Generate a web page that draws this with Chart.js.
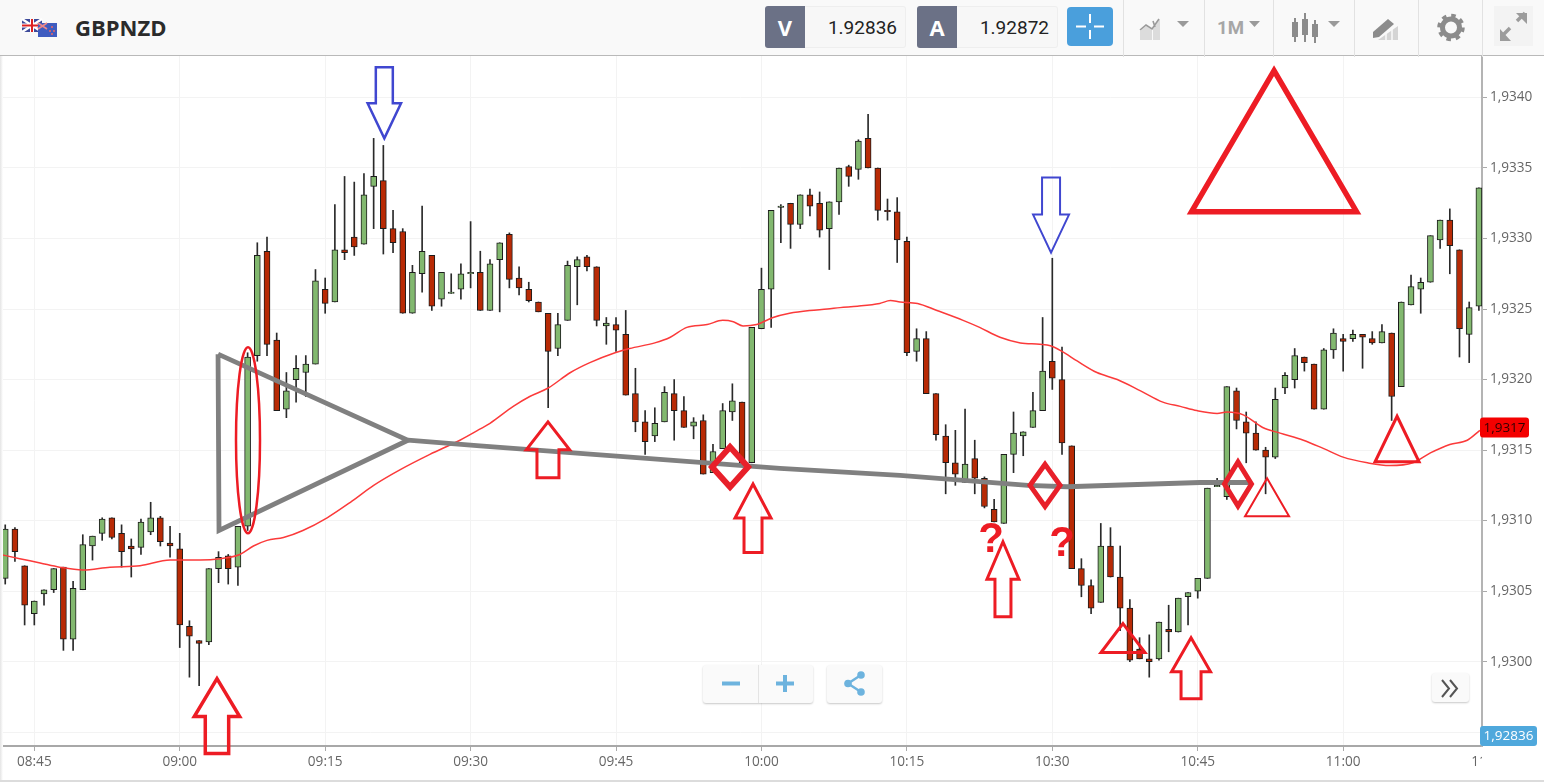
<!DOCTYPE html>
<html><head><meta charset="utf-8"><title>GBPNZD</title>
<script src="https://cdn.jsdelivr.net/npm/chart.js@4/dist/chart.umd.min.js"></script>
<style>
html,body{margin:0;padding:0;background:#fff;overflow:hidden}
body{width:1544px;height:782px;position:relative;font-family:"Open Sans",sans-serif}
canvas{position:absolute;left:0;top:0}
.a{position:absolute}
#hdr{left:0;top:0;width:1544px;height:55px;background:#f9f9f9;border-bottom:1px solid #b9b9b9}
#sym{left:75px;top:12px;font:700 22px/30px "Open Sans";color:#2b2b2b}
.lab{background:#6b7186;color:#fff;font:700 22px/42px "Open Sans";text-align:center;width:40px;height:42px;top:6px;border-radius:3px 0 0 3px}
.val{background:#f7f7f7;border:1px solid #eee;border-left:0;border-radius:0 3px 3px 0;top:6px;height:40px;width:100px;color:#222;font:400 19px/41px Roboto;text-align:right;box-sizing:content-box}
.sep{top:0;width:1px;height:57px;background:#e2e2e2}
.btn{background:#fafafa;border-radius:3px;box-shadow:0 1px 2px rgba(0,0,0,.22)}
</style></head><body>
<canvas id="c" width="1544" height="782"></canvas>
<div class="a" style="left:0;top:56px;width:3px;height:726px;background:linear-gradient(90deg,#e4e4e4,#fff)"></div>
<div class="a" style="left:0;top:780px;width:1544px;height:2px;background:#dcdcdc"></div>
<div id="hdr" class="a"></div>
<svg class="a" style="left:20px;top:16px" width="40" height="24" viewBox="0 0 40 24">
<rect x="2" y="3" width="20" height="13" fill="#3d4a9a"/><path d="M2 3L22 16M22 3L2 16" stroke="#fff" stroke-width="2.5"/><path d="M12 3V16M2 9.5H22" stroke="#fff" stroke-width="4"/><path d="M12 3V16M2 9.5H22" stroke="#d22" stroke-width="2"/>
<rect x="18" y="7" width="19" height="14" fill="#3f5cc0"/><path d="M18 7L27 13M27 7L18 13" stroke="#e88" stroke-width="1.6"/><circle cx="32" cy="11" r="1" fill="#e66"/><circle cx="30" cy="15" r="1" fill="#e66"/><circle cx="34" cy="15" r="1" fill="#e66"/><circle cx="32" cy="18" r="1" fill="#e66"/>
</svg>
<div id="sym" class="a">GBPNZD</div>
<div class="a lab" style="left:765px">V</div><div class="a val" style="left:805px;padding-right:8px;width:92px">1.92836</div>
<div class="a lab" style="left:917px">A</div><div class="a val" style="left:957px;padding-right:8px;width:92px">1.92872</div>
<div class="a" style="left:1067px;top:7px;width:46px;height:39px;background:#4a9fdc;border-radius:4px"></div>
<svg class="a" style="left:1067px;top:7px" width="46" height="39"><path d="M23 7V16M23 23V32M9 19.5H19M27 19.5H37" stroke="#fff" stroke-width="2"/></svg>
<div class="a sep" style="left:1123px"></div><div class="a sep" style="left:1204px"></div><div class="a sep" style="left:1273px"></div><div class="a sep" style="left:1354px"></div><div class="a sep" style="left:1418px"></div><div class="a sep" style="left:1482px"></div>
<svg class="a" style="left:1124px;top:0" width="420" height="55">
<path d="M16 40V31L22 26L28 30V40ZM29 40V27L36 19V40Z" fill="#dcdcdc"/><path d="M16 30L22 25L28 29L35 19M29 21L31 27" stroke="#9a9a9a" stroke-width="1.6" fill="none"/>
<path d="M53 21H65L59 27Z" fill="#9a9a9a"/>
<text x="93" y="34" font-family="Roboto" font-size="19" font-weight="700" fill="#a6a6a6" textLength="27" lengthAdjust="spacingAndGlyphs">1M</text>
<path d="M125 21H136L130.500 27Z" fill="#9a9a9a"/>
<g fill="#8c8c8c"><rect x="168" y="22" width="6" height="15"/><rect x="170" y="18" width="2" height="24"/><rect x="178" y="19" width="6" height="16"/><rect x="180" y="13" width="2" height="29"/><rect x="188" y="24" width="6" height="13"/><rect x="190" y="20" width="2" height="23"/></g>
<path d="M204 21H216L210 27Z" fill="#9a9a9a"/>
<path d="M254 40L274 26V40Z" fill="#d4d4d4"/>
<path d="M249 32L264 19L270 24L255 37L249 38Z" fill="#8c8c8c"/>
<path d="M262 40V33M268 40V29" stroke="#f9f9f9" stroke-width="1.500"/>
<circle cx="327" cy="27.500" r="8.500" fill="none" stroke="#8c8c8c" stroke-width="5"/><circle cx="327" cy="27.500" r="12" fill="none" stroke="#8c8c8c" stroke-width="3.500" stroke-dasharray="4.500 4.900"/>
<rect x="370" y="6" width="39" height="40" fill="#f3f3f3"/>
<path d="M393 21L401 13M378 36L386 28" stroke="#9c9c9c" stroke-width="3.500" fill="none"/>
<path d="M392 13H403V24ZM376 29V41H387Z" fill="#9c9c9c"/>
</svg>
<div class="a btn" style="left:703px;top:665px;width:110px;height:38px"></div>
<div class="a" style="left:758px;top:665px;width:1px;height:38px;background:#e4e4e4"></div>
<div class="a btn" style="left:827px;top:665px;width:55px;height:38px"></div>
<div class="a btn" style="left:1432px;top:673px;width:37px;height:29px"></div>
<svg class="a" style="left:703px;top:665px" width="780" height="40">
<path d="M19 18.500H37M73 18.500H91M82 10V27" stroke="#6db3de" stroke-width="4"/>
<path d="M145 18.500L158 10M145 18.500L158 27" stroke="#6db3de" stroke-width="2.500"/>
<g fill="#6db3de"><circle cx="158" cy="10" r="3.800"/><circle cx="145" cy="18.500" r="3.800"/><circle cx="158" cy="27" r="3.800"/></g>
<path d="M739 15L746 23.500L739 32M747 15L754 23.500L747 32" stroke="#555" stroke-width="2" fill="none"/>
</svg>
<script>
const startMinute = 522;
const opens = [
1.93059,1.93094,1.93068,1.93034,1.93048,1.93051,1.93067,1.93016,1.93051,1.93082,
1.93091,1.93102,1.93091,1.93082,1.93081,1.93092,1.93102,1.93084,1.93080,1.93025,
1.93015,1.93014,1.93066,1.93075,1.93067,1.93096,1.93217,1.93291,1.93228,1.93179,
1.93200,1.93205,1.93211,1.93264,1.93255,1.93292,1.93301,1.93296,1.93337,1.93341,
1.93307,1.93305,1.93247,1.93275,1.93288,1.93257,1.93261,1.93264,1.93275,1.93276,
1.93249,1.93285,1.93303,1.93272,1.93264,1.93255,1.93247,1.93222,1.93242,1.93280,
1.93287,1.93280,1.93238,1.93239,1.93232,1.93190,1.93170,1.93160,1.93170,1.93190,
1.93178,1.93167,1.93171,1.93134,1.93151,1.93177,1.93184,1.93141,1.93236,1.93264,
1.93322,1.93325,1.93310,1.93331,1.93325,1.93307,1.93326,1.93351,1.93349,1.93371,
1.93350,1.93320,1.93319,1.93298,1.93220,1.93229,1.93190,1.93160,1.93141,1.93127,
1.93144,1.93130,1.93108,1.93098,1.93147,1.93160,1.93166,1.93178,1.93213,1.93200,
1.93153,1.93066,1.93054,1.93042,1.93082,1.93060,1.93038,1.93009,1.93002,1.93002,
1.93023,1.93021,1.93046,1.93050,1.93059,1.93124,1.93117,1.93192,1.93170,1.93162,
1.93150,1.93145,1.93194,1.93200,1.93216,1.93211,1.93179,1.93221,1.93229,1.93229,
1.93232,1.93229,1.93226,1.93233,1.93195,1.93253,1.93264,1.93269,1.93299,1.93313,
1.93292,1.93232,1.93252];
const highs = [
1.93097,1.93095,1.93068,1.93043,1.93051,1.93066,1.93067,1.93057,1.93090,1.93089,
1.93102,1.93102,1.93097,1.93087,1.93101,1.93113,1.93103,1.93096,1.93091,1.93029,
1.93015,1.93066,1.93078,1.93076,1.93096,1.93219,1.93297,1.93301,1.93233,1.93205,
1.93217,1.93217,1.93278,1.93272,1.93324,1.93344,1.93340,1.93346,1.93371,1.93366,
1.93320,1.93307,1.93281,1.93323,1.93288,1.93276,1.93275,1.93282,1.93312,1.93291,
1.93285,1.93297,1.93304,1.93280,1.93269,1.93255,1.93247,1.93247,1.93284,1.93287,
1.93288,1.93280,1.93244,1.93244,1.93249,1.93208,1.93178,1.93180,1.93195,1.93200,
1.93188,1.93173,1.93175,1.93154,1.93183,1.93197,1.93184,1.93237,1.93279,1.93320,
1.93324,1.93325,1.93331,1.93335,1.93333,1.93326,1.93350,1.93352,1.93370,1.93388,
1.93350,1.93328,1.93329,1.93301,1.93236,1.93234,1.93190,1.93168,1.93164,1.93179,
1.93157,1.93131,1.93115,1.93147,1.93177,1.93163,1.93191,1.93244,1.93286,1.93223,
1.93153,1.93073,1.93058,1.93098,1.93095,1.93082,1.93044,1.93017,1.93019,1.93028,
1.93040,1.93045,1.93049,1.93059,1.93123,1.93130,1.93195,1.93194,1.93177,1.93170,
1.93152,1.93194,1.93205,1.93222,1.93216,1.93211,1.93222,1.93236,1.93232,1.93235,
1.93232,1.93234,1.93239,1.93233,1.93255,1.93274,1.93272,1.93302,1.93313,1.93321,
1.93292,1.93255,1.93336];
const lows = [
1.93055,1.93071,1.93026,1.93026,1.93040,1.93049,1.93008,1.93008,1.93051,1.93072,
1.93086,1.93087,1.93067,1.93060,1.93076,1.93090,1.93082,1.93074,1.93010,1.92989,
1.92983,1.93012,1.93056,1.93055,1.93054,1.93093,1.93213,1.93217,1.93178,1.93173,
1.93184,1.93188,1.93211,1.93247,1.93255,1.93285,1.93288,1.93296,1.93307,1.93289,
1.93290,1.93247,1.93247,1.93262,1.93249,1.93252,1.93261,1.93257,1.93265,1.93249,
1.93249,1.93248,1.93265,1.93260,1.93255,1.93248,1.93180,1.93217,1.93242,1.93253,
1.93277,1.93238,1.93225,1.93220,1.93189,1.93163,1.93147,1.93156,1.93170,1.93157,
1.93166,1.93158,1.93133,1.93134,1.93151,1.93171,1.93141,1.93141,1.93236,1.93237,
1.93297,1.93293,1.93307,1.93316,1.93301,1.93278,1.93317,1.93337,1.93342,1.93350,
1.93313,1.93313,1.93283,1.93217,1.93213,1.93190,1.93157,1.93119,1.93125,1.93127,
1.93119,1.93109,1.93099,1.93098,1.93134,1.93146,1.93166,1.93178,1.93193,1.93147,
1.93066,1.93046,1.93034,1.93042,1.93060,1.93022,1.93000,1.93002,1.92989,1.93001,
1.93007,1.93021,1.93026,1.93045,1.93059,1.93124,1.93115,1.93165,1.93141,1.93150,
1.93119,1.93144,1.93190,1.93194,1.93206,1.93179,1.93179,1.93215,1.93206,1.93227,
1.93208,1.93225,1.93226,1.93171,1.93195,1.93253,1.93247,1.93269,1.93293,1.93275,
1.93216,1.93212,1.93249];
const closes = [
1.93094,1.93078,1.93040,1.93043,1.93051,1.93066,1.93016,1.93052,1.93083,1.93089,
1.93101,1.93088,1.93078,1.93080,1.93099,1.93102,1.93085,1.93082,1.93026,1.93018,
1.93013,1.93066,1.93074,1.93066,1.93096,1.93216,1.93288,1.93225,1.93178,1.93192,
1.93208,1.93211,1.93270,1.93254,1.93292,1.93290,1.93294,1.93331,1.93344,1.93307,
1.93297,1.93247,1.93276,1.93291,1.93252,1.93276,1.93262,1.93275,1.93276,1.93249,
1.93282,1.93297,1.93271,1.93265,1.93256,1.93248,1.93220,1.93239,1.93281,1.93285,
1.93280,1.93242,1.93240,1.93235,1.93189,1.93170,1.93156,1.93169,1.93191,1.93178,
1.93166,1.93170,1.93133,1.93149,1.93178,1.93185,1.93141,1.93237,1.93264,1.93320,
1.93323,1.93310,1.93331,1.93323,1.93306,1.93326,1.93350,1.93344,1.93369,1.93350,
1.93320,1.93319,1.93299,1.93219,1.93229,1.93190,1.93161,1.93141,1.93133,1.93140,
1.93130,1.93110,1.93099,1.93147,1.93162,1.93163,1.93178,1.93206,1.93201,1.93155,
1.93066,1.93054,1.93038,1.93082,1.93060,1.93038,1.93001,1.93002,1.93000,1.93028,
1.93021,1.93045,1.93049,1.93059,1.93123,1.93125,1.93195,1.93171,1.93162,1.93150,
1.93145,1.93186,1.93203,1.93217,1.93212,1.93179,1.93221,1.93233,1.93227,1.93232,
1.93230,1.93226,1.93234,1.93188,1.93255,1.93266,1.93269,1.93302,1.93313,1.93295,
1.93236,1.93251,1.93336];
const maTimes = [521.5,523.5,525.6,527.6,530,532.8,535.9,539,542.1,544.2,546.2,547.6,549,550.7,552.7,555.2,557.6,560,562.7,565.8,568.9,571,572,574.4,576.1,578,580.3,582.3,584.9,586.4,589,590.6,592.3,594.4,596,597.1,598.1,599.5,601.2,602.9,605,606.8,608.1,609.9,612.2,613.3,614.3,616.1,618.1,620.8,622.5,624.6,626.7,628.7,629.8,631,632.6,634.6,636.7,639.1,641.4,643.2,644.9,647,648,649.7,651.7,653.5,655.9,658,660,662.5,664.8,667.2,669,671,672.8,674.1];
const maValues = [1.93076,1.93073,1.93070,1.93067,1.93065,1.93067,1.93068,1.93072,1.93072,1.93073,1.93076,1.93082,1.93086,1.93088,1.93093,1.93102,1.93113,1.93125,1.93136,1.93147,1.93157,1.93165,1.93169,1.93181,1.93188,1.93194,1.93205,1.93212,1.93219,1.93222,1.93226,1.93230,1.93237,1.93239,1.93242,1.93241,1.93238,1.93239,1.93244,1.93247,1.93249,1.93250,1.93251,1.93252,1.93254,1.93256,1.93255,1.93254,1.93249,1.93242,1.93237,1.93230,1.93226,1.93225,1.93224,1.93220,1.93213,1.93205,1.93200,1.93192,1.93184,1.93181,1.93178,1.93176,1.93177,1.93175,1.93166,1.93162,1.93157,1.93151,1.93145,1.93141,1.93139,1.93141,1.93148,1.93154,1.93157,1.93164];
const wedgeTimes = [543.95,544.05,563.54,543.95];
const wedgeValues = [1.93218,1.93093,1.93157,1.93218];
const trendTimes = [563.54,570.97,601.91,614.29,627.49,631.52,645.24,650.39];
const trendValues = [1.93157,1.93153,1.93137,1.93132,1.93125,1.93124,1.93127,1.93127];
const upArrowTimes = [543.84,577.98,599.13,624.91,644.31];
const upArrowPrices = [1.92988,1.93170,1.93126,1.93085,1.93017];
const downArrowTimes = [561.1,629.87];
const downArrowPrices = [1.93371,1.93290];
const triangleTimes = [652.87,637.29,652.15,665.56];
const trianglePrices = [1.93419,1.93027,1.93130,1.93174];
const diamondTimes = [596.76,629.25,649.15];
const diamondPrices = [1.93138,1.93125,1.93126];
const ellipseTime = 547.04, ellipsePrice = 1.93157;
const questionTimes = [623.68,631.0];
const questionPrices = [1.93086,1.93083];
const maTag = 1.93166, bidTag = 1.92836, clippedTick = 675;

const RED='#ed1c24', BLUE='#4047d0';
const upStyle=[[22.7,38,11.7,75,3.5],[21.7,28,11,56,3],[18,34,9,68.5,3],[16,37.5,8,75,3],[19.5,34,10,61,3]];
const downStyle=[[16.7,35,8.5,71,2.5],[18,38,9,75,2]];
const triStyle=[[82.5,141,5.5],[22,29,3],[22,38,2],[22,45.5,3]];
const diaStyle=[[18,20,6],[15,21,5],[13.5,22,5]];
const fmtT=m=>String(Math.floor(m/60)).padStart(2,'0')+':'+String(m%60).padStart(2,'0');
const times=opens.map((_,i)=>startMinute+i);

function poly(ctx,pts,color,lw){ctx.beginPath();pts.forEach((p,i)=>i?ctx.lineTo(p[0],p[1]):ctx.moveTo(p[0],p[1]));ctx.closePath();ctx.strokeStyle=color;ctx.lineWidth=lw;ctx.lineJoin='miter';ctx.stroke();}
function tag(ctx,x,y,w,h,bg,fg,text){ctx.beginPath();ctx.roundRect(x,y,w,h,3);ctx.fillStyle=bg;ctx.fill();ctx.fillStyle=fg;ctx.font='400 13.500px "Open Sans"';ctx.textAlign='center';ctx.textBaseline='middle';ctx.fillText(text,x+w/2,y+h/2+.5);}
const drawn={id:'drawn',
afterDatasetsDraw(c){const ctx=c.ctx,X=c.scales.x,Y=c.scales.y;ctx.save();
 upArrowTimes.forEach((t,i)=>{const x=X.getPixelForValue(t),y=Y.getPixelForValue(upArrowPrices[i]),[a,b,s,h,l]=upStyle[i];
  poly(ctx,[[x,y],[x+a,y+b],[x+s,y+b],[x+s,y+h],[x-s,y+h],[x-s,y+b],[x-a,y+b]],RED,l);});
 downArrowTimes.forEach((t,i)=>{const x=X.getPixelForValue(t),y=Y.getPixelForValue(downArrowPrices[i]),[a,b,s,h,l]=downStyle[i];
  poly(ctx,[[x,y],[x+a,y-b],[x+s,y-b],[x+s,y-h],[x-s,y-h],[x-s,y-b],[x-a,y-b]],BLUE,l);});
 triangleTimes.forEach((t,i)=>{const x=X.getPixelForValue(t),y=Y.getPixelForValue(trianglePrices[i]),[a,h,l]=triStyle[i];
  poly(ctx,[[x,y],[x+a,y+h],[x-a,y+h]],RED,l);});
 diamondTimes.forEach((t,i)=>{const x=X.getPixelForValue(t),y=Y.getPixelForValue(diamondPrices[i]),[a,b,l]=diaStyle[i];
  poly(ctx,[[x,y-b],[x+a,y],[x,y+b],[x-a,y]],'#e8202a',l);});
 ctx.beginPath();ctx.ellipse(X.getPixelForValue(ellipseTime),Y.getPixelForValue(ellipsePrice),12,93,0,0,Math.PI*2);ctx.strokeStyle=RED;ctx.lineWidth=2.5;ctx.stroke();
 ctx.fillStyle=RED;ctx.font='700 42px "Liberation Sans"';ctx.textAlign='center';ctx.textBaseline='middle';
 questionTimes.forEach((t,i)=>ctx.fillText('?',X.getPixelForValue(t),Y.getPixelForValue(questionPrices[i])));
 ctx.restore();},
afterDraw(c){const ctx=c.ctx,X=c.scales.x,Y=c.scales.y,a=c.chartArea;ctx.save();
 tag(ctx,a.right-2,Y.getPixelForValue(maTag)-10,49,20,'#f40000','#300',maTag.toFixed(4).replace('.',','));
 const by=Math.min(Y.getPixelForValue(bidTag),a.bottom-10);
 tag(ctx,a.right-2,by-10,57,20,'#4fa8dc','#fff',bidTag.toFixed(5).replace('.',','));
 ctx.beginPath();ctx.rect(0,a.bottom+1,a.right,34);ctx.clip();
 ctx.fillStyle='#666';ctx.font='400 13.600px "Open Sans"';ctx.textAlign='center';ctx.textBaseline='middle';
 ctx.fillText(fmtT(clippedTick),X.getPixelForValue(clippedTick),762.5);
 ctx.restore();}};

new Chart(document.getElementById('c'),{
 type:'bar',
 data:{datasets:[
  {type:'line',order:1,data:trendTimes.map((x,i)=>({x,y:trendValues[i]})),borderColor:'#808080',borderWidth:4.8,pointRadius:0,tension:0},
  {type:'line',order:1,data:wedgeTimes.map((x,i)=>({x,y:wedgeValues[i]})),borderColor:'#808080',borderWidth:4.8,pointRadius:0,tension:0},
  {type:'line',order:2,data:maTimes.map((x,i)=>({x,y:maValues[i]})),borderColor:'#fb3a3a',borderWidth:1.5,pointRadius:0,cubicInterpolationMode:'monotone'},
  {order:3,grouped:false,barThickness:6,borderSkipped:false,borderWidth:1,borderColor:'#1c1c1c',
   backgroundColor:opens.map((o,i)=>closes[i]>=o?'#82b86f':'#b82a05'),
   data:times.map((x,i)=>({x,y:[opens[i],closes[i]]}))},
  {order:4,grouped:false,barThickness:1,borderWidth:0,backgroundColor:'#2a2a2a',
   data:times.map((x,i)=>({x,y:[lows[i],highs[i]]}))}
 ]},
 options:{responsive:false,animation:false,devicePixelRatio:1,
  layout:{padding:{top:56,left:0,right:0,bottom:0}},
  plugins:{legend:{display:false},tooltip:{enabled:false},title:{display:false}},
  scales:{
   x:{type:'linear',min:521.46,max:674.32,offset:false,
    afterFit(s){s.height=36;},
    grid:{color:'#f3f3f3',offset:false,tickColor:'#aaa',tickLength:5},
    border:{color:'#a8a8a8',width:2},
    ticks:{stepSize:15,includeBounds:false,autoSkip:false,maxRotation:0,padding:3,color:'#666',font:{family:'"Open Sans"',size:13.6},callback:v=>fmtT(v)}},
   y:{type:'linear',position:'right',min:1.929402,max:1.934294,
    afterFit(s){s.width=62;},
    grid:{color:'#f3f3f3',tickColor:'#aaa',tickLength:5},
    border:{color:'#b4b4b4',width:2},
    ticks:{stepSize:0.0005,includeBounds:false,autoSkip:false,padding:3,color:'#666',font:{family:'"Open Sans"',size:13.6},callback:v=>v.toFixed(4).replace('.',',')}}
  }},
 plugins:[drawn]});
</script>
</body></html>
